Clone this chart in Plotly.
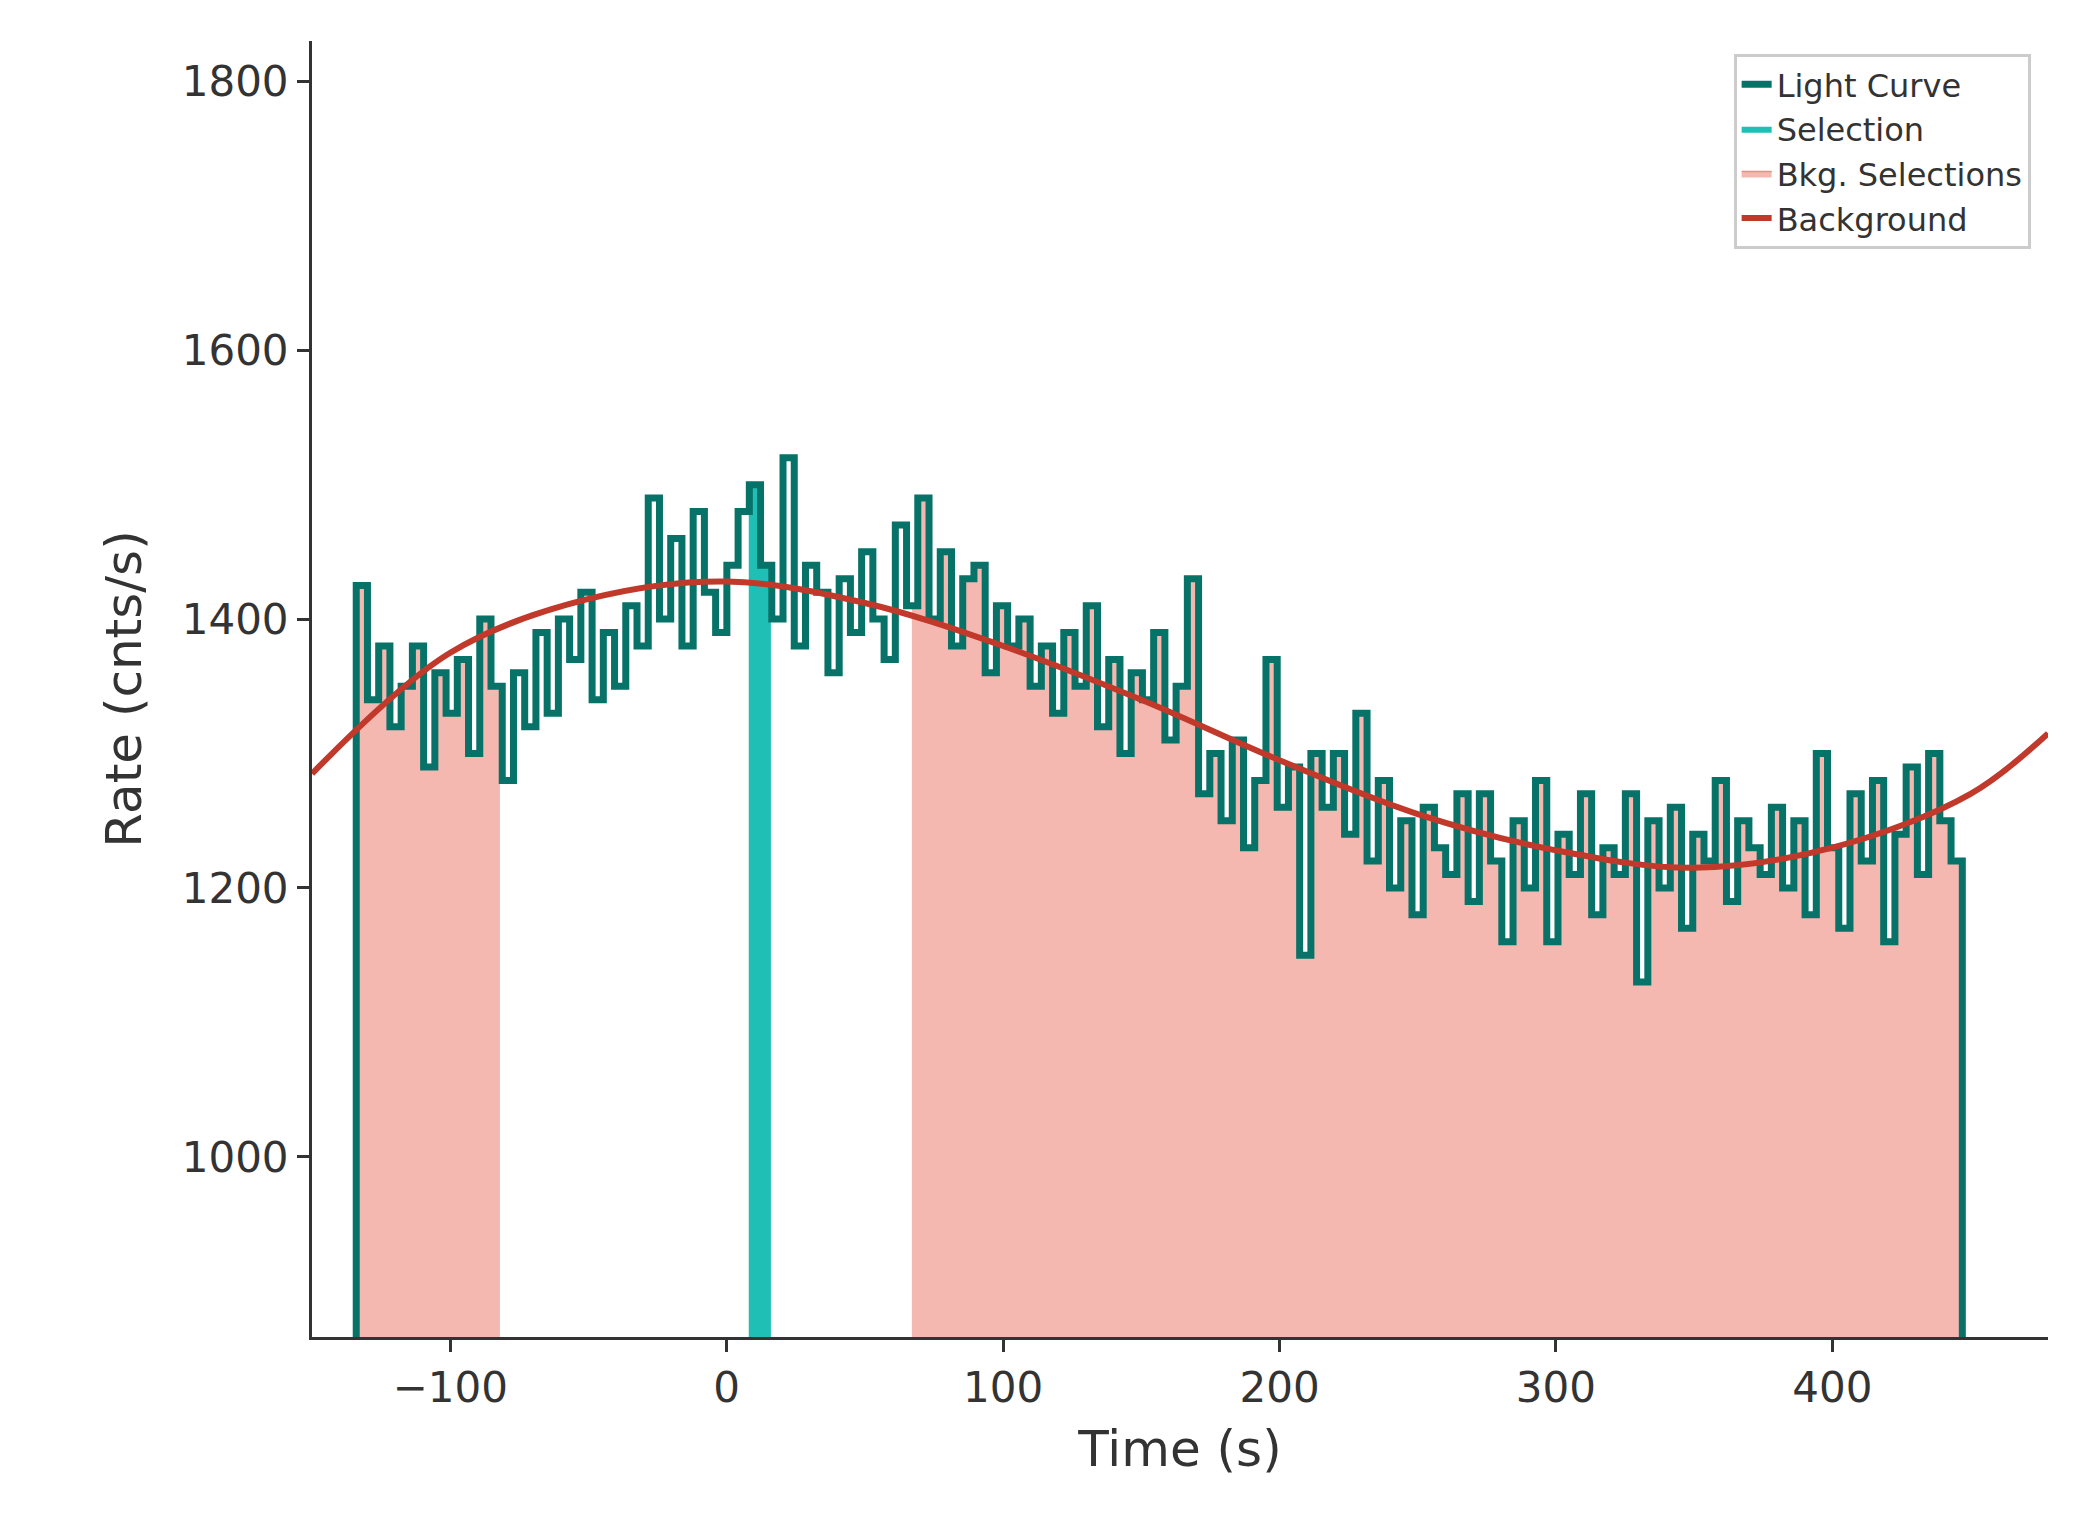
import numpy as np
import plotly.graph_objects as go

rates = [1425,1340,1380,1320,1350,1380,1290,1360,1330,1370,1300,1400,1350,1280,
         1360,1320,1390,1330,1400,1370,1420,1340,1390,1350,1410,1380,
         1490,1400,1460,1380,1480,1420,1390,1440,
         1480,1500,
         1440,1400,1520,1380,1440,1420,1360,1430,1390,1450,1400,1370,
         1470,1410,1490,1400,1450,1380,1430,1440,1360,1410,1380,1400,1350,
         1380,1330,1390,1350,1410,1320,1370,1300,1360,1340,1390,1310,1350,
         1430,1270,1300,1250,1310,1230,1280,1370,1260,1290,1150,1300,1260,
         1300,1240,1330,1220,1280,1200,1250,1180,1260,1230,1210,1270,1190,
         1270,1220,1160,1250,1200,1280,1160,1240,1210,1270,1180,1230,1210,
         1270,1130,1250,1200,1260,1170,1240,1220,1280,1190,1250,1230,1210,
         1260,1200,1250,1180,1300,1230,1170,1270,1220,1280,1160,1240,1290,
         1210,1300,1250,1220]
t_start, t_end = -134, 447
bkg_t = [-150,-100,-50,0,50,100,150,200,250,300,350,400,450,478]
bkg_v = [1285,1375,1415,1428,1412,1380,1340,1295,1255,1228,1215,1230,1270,1315]
sel = (8, 16)
bkg_sel = [(-134, -82), (67, 447)]
ymin = 866

n = len(rates)
edges = np.linspace(t_start, t_end, n + 1)
r = np.array(rates, float)

teal = "#067268"
sel_c = "#1fbfb5"
pink_fill = "rgba(241,160,150,0.75)"
pink_line = "#f08c82"
red = "#c0392b"

fig = go.Figure()

def region(lo, hi):
    xs, ys = [], []
    for i in range(n):
        a, b = max(edges[i], lo), min(edges[i+1], hi)
        if b > a:
            xs += [a, b]; ys += [r[i], r[i]]
    return xs, ys

for k, (lo, hi) in enumerate(bkg_sel):
    xs, ys = region(lo, hi)
    fig.add_trace(go.Scatter(x=xs, y=ys, mode="lines", fill="tozeroy", fillcolor=pink_fill,
                             line=dict(color=pink_line, width=1.5), name="Bkg. Selections",
                             showlegend=(k == 0), legendrank=3))
xs, ys = region(*sel)
fig.add_trace(go.Scatter(x=xs, y=ys, mode="lines", fill="tozeroy", fillcolor=sel_c,
                         line=dict(color=sel_c, width=0), name="Selection", legendrank=2))

lx = [edges[0]]; ly = [ymin]
for i in range(n):
    lx += [edges[i], edges[i+1]]; ly += [r[i], r[i]]
lx.append(edges[-1]); ly.append(ymin)
fig.add_trace(go.Scatter(x=lx, y=ly, mode="lines", line=dict(color=teal, width=7),
                         name="Light Curve", legendrank=1))
fig.add_trace(go.Scatter(x=bkg_t, y=bkg_v, mode="lines", line=dict(color=red, width=6, shape="spline"),
                         name="Background", legendrank=4))

ax = dict(showline=True, linecolor="#333", linewidth=3, ticks="outside", ticklen=12, tickwidth=3,
          tickcolor="#333", showgrid=False, zeroline=False, tickfont=dict(size=42, color="#333"))
fig.update_layout(
    width=2073, height=1540, plot_bgcolor="white", paper_bgcolor="white",
    font=dict(family="DejaVu Sans", color="#333"),
    margin=dict(l=304, r=33, t=33, b=211),
    xaxis=dict(range=[-150, 478], tickvals=[-100,0,100,200,300,400],
               ticktext=["\u2212100","0","100","200","300","400"],
               title=dict(text="Time (s)", font=dict(size=50), standoff=20), **ax),
    yaxis=dict(range=[ymin, 1830], tickvals=[1000,1200,1400,1600,1800],
               title=dict(text="Rate (cnts/s)", font=dict(size=50), standoff=25), **ax),
    legend=dict(x=0.99, y=0.99, xanchor="right", yanchor="top", bgcolor="white",
                bordercolor="#ccc", borderwidth=3, font=dict(size=32)),
)
fig.write_html("out.html")
